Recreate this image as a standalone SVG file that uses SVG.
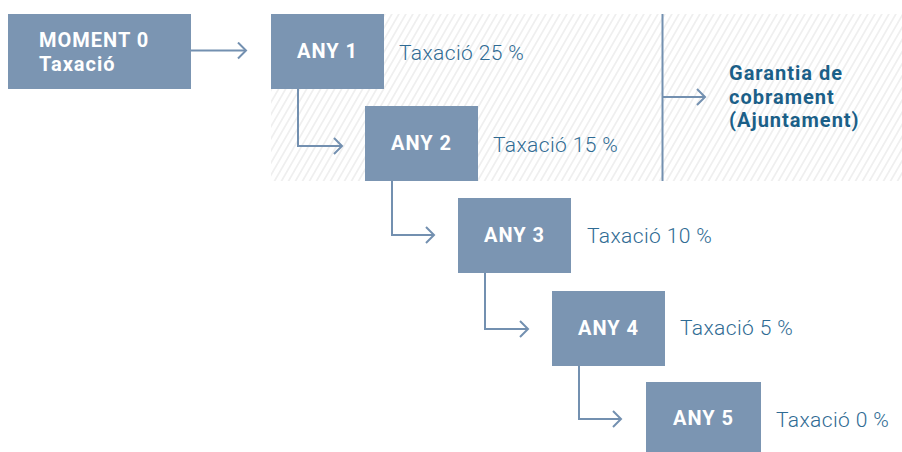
<svg xmlns="http://www.w3.org/2000/svg" width="902" height="452" viewBox="0 0 902 452">
<defs>
<pattern id="hatch" patternUnits="userSpaceOnUse" width="7" height="12" patternTransform="skewX(-30)">
<rect x="0" y="0" width="2" height="12" fill="#efefef"/>
</pattern>
<marker id="arr" markerWidth="12" markerHeight="18" refX="10" refY="9" orient="auto" markerUnits="userSpaceOnUse">
<path d="M2,1 L10,9 L2,17" fill="none" stroke="#7390b0" stroke-width="2"/>
</marker>
</defs>
<style>
.box{fill:#7b95b2}
.bt{font-family:Roboto,"Liberation Sans",sans-serif;font-weight:bold;font-size:20px;letter-spacing:1px;fill:#ffffff}
.tx{font-family:Roboto,"Liberation Sans",sans-serif;font-weight:300;font-size:21px;letter-spacing:0.4px;fill:#2f6b93}
.gt{font-family:Roboto,"Liberation Sans",sans-serif;font-weight:bold;font-size:20px;letter-spacing:1px;fill:#1b5f88}
.ln{fill:none;stroke:#7390b0;stroke-width:2}
</style>
<rect width="902" height="452" fill="#ffffff"/>
<rect x="271" y="14" width="631" height="167" fill="url(#hatch)"/>
<g id="connectors">
<line class="ln" x1="191" y1="50.5" x2="246" y2="50.5" marker-end="url(#arr)"/>
<polyline class="ln" points="298,89 298,146 342,146" marker-end="url(#arr)"/>
<polyline class="ln" points="392,181 392,235 434,235" marker-end="url(#arr)"/>
<polyline class="ln" points="485,273 485,329 528,329" marker-end="url(#arr)"/>
<polyline class="ln" points="579,366 579,419 621,419" marker-end="url(#arr)"/>
<line class="ln" x1="662.5" y1="14" x2="662.5" y2="181"/>
<line class="ln" x1="663" y1="97" x2="705" y2="97" marker-end="url(#arr)"/>
</g>
<g id="moment0">
<rect class="box" x="8" y="14" width="183" height="75"/>
<text class="bt" x="39" y="47">MOMENT 0</text>
<text class="bt" x="39" y="71">Taxació</text>
</g>
<g id="any1">
<rect class="box" x="271" y="14" width="113" height="75"/>
<text class="bt" x="327.5" y="58" text-anchor="middle">ANY 1</text>
<text class="tx" x="399" y="60">Taxació 25 %</text>
</g>
<g id="any2">
<rect class="box" x="365" y="106" width="113" height="75"/>
<text class="bt" x="421.5" y="150" text-anchor="middle">ANY 2</text>
<text class="tx" x="493" y="152">Taxació 15 %</text>
</g>
<g id="any3">
<rect class="box" x="458" y="198" width="113" height="75"/>
<text class="bt" x="514.5" y="242" text-anchor="middle">ANY 3</text>
<text class="tx" x="587" y="243">Taxació 10 %</text>
</g>
<g id="any4">
<rect class="box" x="552" y="291" width="113" height="75"/>
<text class="bt" x="608.5" y="335" text-anchor="middle">ANY 4</text>
<text class="tx" x="680" y="335">Taxació 5 %</text>
</g>
<g id="any5">
<rect class="box" x="646" y="382" width="115" height="75"/>
<text class="bt" x="703.5" y="425" text-anchor="middle">ANY 5</text>
<text class="tx" x="776" y="427">Taxació 0 %</text>
</g>
<g id="garantia">
<text class="gt" x="729" y="80">Garantia de</text>
<text class="gt" x="729" y="104">cobrament</text>
<text class="gt" x="729" y="127">(Ajuntament)</text>
</g>
</svg>
